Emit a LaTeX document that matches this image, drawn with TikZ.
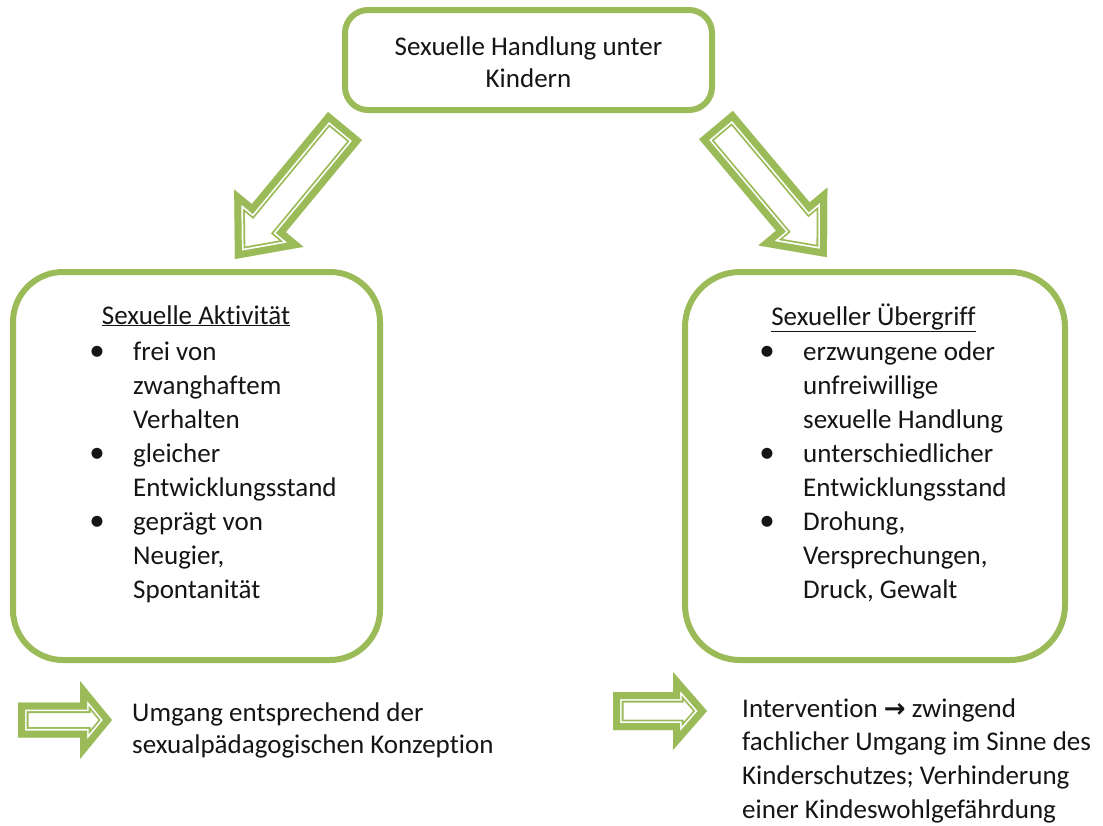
\documentclass[tikz,border=0pt]{standalone}
\usepackage{fontspec}
\setmainfont{Carlito}[Ligatures=NoCommon]
\newfontfamily\djv{DejaVu Sans}
\definecolor{grn}{HTML}{9BBB59}
\definecolor{ink}{HTML}{151515}
% double-outlined block arrow: tail x, tail y, angle, length, shaft half width, head half width, head length
\newcommand{\dblarrow}[7]{%
  \begin{scope}[shift={(#1,#2)},rotate=#3]
    \fill[white] (0,-#5) -- ({#4-#7},-#5) -- ({#4-#7},-#6) -- (#4,0) -- ({#4-#7},#6) -- ({#4-#7},#5) -- (0,#5) -- cycle;
    \clip (0,-#5) -- ({#4-#7},-#5) -- ({#4-#7},-#6) -- (#4,0) -- ({#4-#7},#6) -- ({#4-#7},#5) -- (0,#5) -- cycle;
    \draw[grn, line width=21pt, miter limit=20] (0,-#5) -- ({#4-#7},-#5) -- ({#4-#7},-#6) -- (#4,0) -- ({#4-#7},#6) -- ({#4-#7},#5) -- (0,#5) -- cycle;
    \draw[white, line width=17.4pt, miter limit=20] (0,-#5) -- ({#4-#7},-#5) -- ({#4-#7},-#6) -- (#4,0) -- ({#4-#7},#6) -- ({#4-#7},#5) -- (0,#5) -- cycle;
    \draw[grn, line width=14pt, miter limit=20] (0,-#5) -- ({#4-#7},-#5) -- ({#4-#7},-#6) -- (#4,0) -- ({#4-#7},#6) -- ({#4-#7},#5) -- (0,#5) -- cycle;
  \end{scope}}
\begin{document}
\begin{tikzpicture}[x=1pt,y=-1pt,
  box/.style={draw=grn, line width=6pt, fill=white, inner sep=0pt},
  txt/.style={anchor=base west, inner sep=0pt, text=ink, font=\fontsize{27}{33}\selectfont},
  ctxt/.style={txt, anchor=base},
  bul/.style={txt, anchor=base, font=\fontsize{31}{33}\selectfont}]
\useasboundingbox (0,0) rectangle (1103,825);
\fill[white] (0,0) rectangle (1103,825);

% boxes
\node[box, rounded corners=23pt, minimum width=367pt, minimum height=100pt] (top) at (528.5,60) {};
\node[box, rounded corners=50pt, minimum width=367pt, minimum height=388pt] (left) at (196.5,466) {};
\node[box, rounded corners=55pt, minimum width=380pt, minimum height=388pt] (right) at (875,466) {};

% top text
\node[ctxt] (t1) at (528.5,55) {Sexuelle Handlung unter};
\node[ctxt] (t2) at (528.5,87) {Kindern};

% left box text
\node[ctxt] (la) at (196,324) {\underline{Sexuelle Aktivität}};
\node[bul] (lb1) at (97,360) {•};
\node[bul] (lb2) at (97,462) {•};
\node[bul] (lb3) at (97,530) {•};
\node[txt] (l1) at (133,360) {frei von};
\node[txt] (l2) at (133,394) {zwanghaftem};
\node[txt] (l3) at (133,428) {Verhalten};
\node[txt] (l4) at (133,462) {gleicher};
\node[txt] (l5) at (133,496) {Entwicklungsstand};
\node[txt] (l6) at (133,530) {geprägt von};
\node[txt] (l7) at (133,564) {Neugier,};
\node[txt] (l8) at (133,598) {Spontanität};

% right box text
\node[ctxt] (ra) at (873.5,325) {\underline{Sexueller Übergriff}};
\node[bul] (rb1) at (767,360) {•};
\node[bul] (rb2) at (767,462) {•};
\node[bul] (rb3) at (767,530) {•};
\node[txt] (r1) at (803,360) {erzwungene oder};
\node[txt] (r2) at (803,394) {unfreiwillige};
\node[txt] (r3) at (803,428) {sexuelle Handlung};
\node[txt] (r4) at (803,462) {unterschiedlicher};
\node[txt] (r5) at (803,496) {Entwicklungsstand};
\node[txt] (r6) at (803,530) {Drohung,};
\node[txt] (r7) at (803,564) {Versprechungen,};
\node[txt] (r8) at (803,598) {Druck, Gewalt};

% bottom texts
\node[txt] (bl1) at (132,721) {Umgang entsprechend der};
\node[txt] (bl2) at (132,753) {sexualpädagogischen Konzeption};
\node[txt] (br1) at (742,717) {Intervention {\djv\bfseries\fontsize{26}{33}\selectfont →} zwingend};
\node[txt] (br2) at (742,750) {fachlicher Umgang im Sinne des};
\node[txt] (br3) at (742,784) {Kinderschutzes; Verhinderung};
\node[txt] (br4) at (742,818) {einer Kindeswohlgefährdung};

% block arrows
\dblarrow{345}{126}{230.4}{172.6}{22}{45}{53}
\dblarrow{716}{125}{-50}{172.5}{22}{45}{53}
\dblarrow{18}{720}{0}{94}{17.5}{39}{32}
\dblarrow{613}{711}{0}{94}{19}{39}{34}
\end{tikzpicture}
\end{document}
